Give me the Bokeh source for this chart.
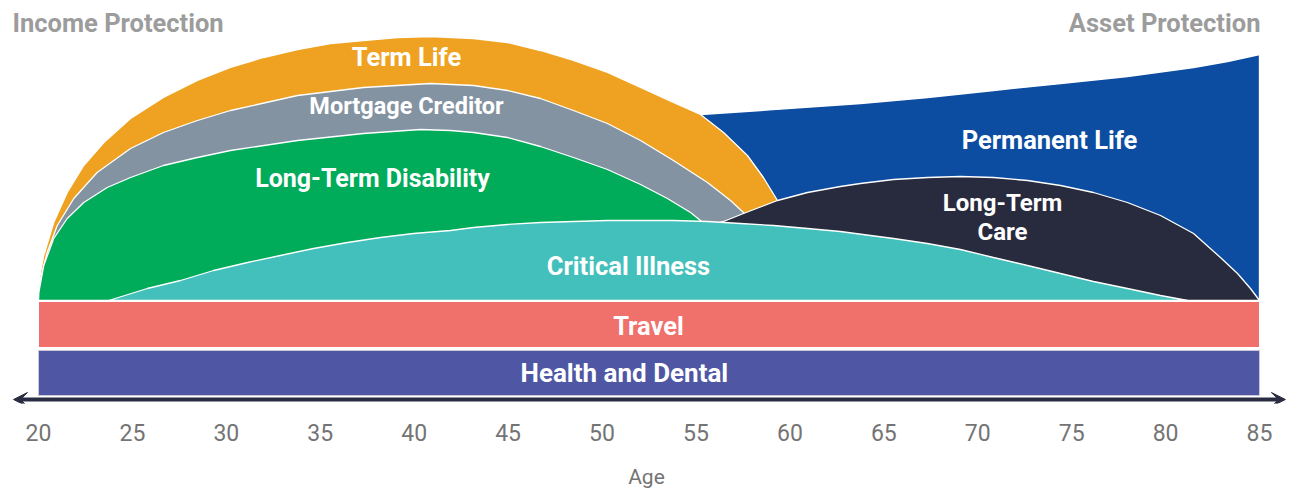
from bokeh.plotting import figure
from bokeh.models import Range1d, FixedTicker, Arrow, VeeHead
from bokeh.embed import file_html
from bokeh.resources import INLINE
from bokeh.core.properties import value

# ---------------- data (age, height of upper edge above the baseline) ----------------
perm_life_age = [55.24, 58.44, 63.76, 67.33, 70.84, 74.41, 77.97, 81.49, 83.30, 85.00]
perm_life_h = [186, 190, 197, 203, 210, 217, 224, 233, 239, 246]

term_life_age = [20.00, 20.02, 20.08, 20.28, 20.81, 21.53, 22.41, 23.48, 24.90, 26.65,
                 28.46, 30.22, 31.98, 33.79, 35.54, 37.30, 39.11, 40.87, 43.16, 44.97,
                 46.72, 48.48, 50.29, 52.05, 53.80, 55.24, 56.47, 57.74, 58.59, 59.34,
                 60.03]
term_life_h = [0, 12, 25, 45, 78, 108, 135, 158, 182, 203,
               220, 233, 243, 251, 257, 260, 263, 264, 262, 258,
               250, 240, 228, 213, 198, 186, 168, 145, 123, 100,
               74]

mortgage_age = [20.00, 20.11, 20.46, 21.00, 21.88, 23.12, 24.90, 26.65, 28.46, 30.22,
                33.79, 37.30, 40.87, 43.16, 44.97, 46.72, 48.48, 50.29, 52.05, 53.80,
                55.61, 56.84, 57.53, 58.44]
mortgage_h = [0, 22, 48, 75, 102, 128, 152, 168, 180, 190,
              205, 213, 217, 215, 210, 202, 190, 177, 160, 140,
              118, 100, 88, 65]

disability_age = [20.00, 20.02, 20.28, 20.81, 21.53, 22.41, 23.66, 24.90, 26.65, 28.46,
                  30.22, 33.79, 37.30, 40.34, 41.93, 43.16, 44.97, 46.72, 48.48, 50.29,
                  52.05, 53.48, 54.71, 55.24, 55.88]
disability_h = [0, 8, 35, 62, 82, 98, 113, 123, 135, 143,
                150, 160, 167, 171, 170, 168, 163, 154, 143, 131,
                116, 102, 88, 80, 65]

ltc_age = [56.09, 56.47, 57.53, 59.34, 60.94, 62.69, 63.76, 65.52, 67.33, 69.08,
           70.84, 72.65, 74.41, 76.16, 77.97, 79.73, 81.49, 82.92, 83.83, 84.52,
           85.00]
ltc_h = [77, 79, 87, 100, 108, 114, 117, 121, 123, 124,
         123, 120, 115, 108, 98, 85, 67, 43, 27, 12,
         0]

critical_age = [23.74, 25.79, 27.56, 29.32, 31.13, 32.88, 34.64, 36.45, 38.21, 39.96,
                41.93, 43.16, 44.97, 46.72, 48.48, 50.29, 52.05, 53.80, 55.61, 57.37,
                59.13, 60.94, 62.69, 64.29, 65.52, 67.32, 69.08, 70.84, 72.65, 74.41,
                76.16, 77.97, 79.73, 81.17]
critical_h = [0, 12, 20, 30, 38, 45, 52, 58, 63, 67,
              70, 73, 76, 78, 79, 80, 80, 80, 79, 77,
              75, 72, 69, 65, 62, 57, 51, 43, 35, 27,
              19, 12, 5, 0]

band_names = ["Travel", "Health and Dental"]
band_start = [20, 20]
band_end = [85, 85]

tick_ages = [20, 25, 30, 35, 40, 45, 50, 55, 60, 65, 70, 75, 80, 85]

# ---------------- colours ----------------
C_PERM = "#0D4DA1"
C_TERM = "#EFA221"
C_MORT = "#8493A2"
C_LTD = "#00AB5A"
C_LTC = "#282B3D"
C_CRIT = "#43C0BC"
C_TRAVEL = "#F0706B"
C_HEALTH = "#4F57A5"
C_DARK = "#2A2D42"
C_GREY_TXT = "#9C9C9C"
C_AXIS_TXT = "#747474"

FONT = value("Roboto")

p = figure(width=1292, height=491, output_backend="svg", toolbar_location=None,
           x_range=Range1d(17.977, 86.757), y_range=Range1d(-103, 300),
           y_axis_location=None, min_border_left=0, min_border_right=0,
           min_border_top=0, min_border_bottom=88, background_fill_color="white",
           border_fill_color="white")
p.grid.visible = False
p.outline_line_color = None


def closed(ages, hs):
    xs = list(ages)
    ys = list(hs)
    if ys[-1] != 0:
        xs.append(ages[-1]); ys.append(0)
    if ys[0] != 0:
        xs.append(ages[0]); ys.append(0)
    return xs, ys


for ages, hs, col in [(perm_life_age, perm_life_h, C_PERM),
                      (term_life_age, term_life_h, C_TERM),
                      (mortgage_age, mortgage_h, C_MORT),
                      (disability_age, disability_h, C_LTD),
                      (ltc_age, ltc_h, C_LTC),
                      (critical_age, critical_h, C_CRIT)]:
    xs, ys = closed(ages, hs)
    p.patch(xs, ys, fill_color=col, line_color="white", line_width=1.3)

# bands
p.quad(left=[band_start[0]], right=[band_end[0]], top=[-1], bottom=[-47],
       fill_color=C_TRAVEL, line_color="white", line_width=1)
p.quad(left=[band_start[1]], right=[band_end[1]], top=[-50], bottom=[-95],
       fill_color=C_HEALTH, line_color="#C9CAD6", line_width=1)


def lab(x, y, t, size="25px"):
    p.text(x=[x], y=[y], text=[t], text_font=FONT, text_font_style="bold",
           text_font_size=size, text_color="white", text_align="center",
           text_baseline="middle")


lab(39.59, 244, "Term Life", "25.5px")
lab(39.59, 195, "Mortgage Creditor", "23.5px")
lab(37.78, 122, "Long-Term Disability", "25px")
lab(73.82, 161, "Permanent Life", "25.5px")
lab(71.32, 98, "Long-Term", "24px")
lab(71.32, 69, "Care", "24px")
lab(51.41, 35, "Critical Illness", "25.5px")
lab(52.47, -25, band_names[0], "25.5px")
lab(51.19, -72, band_names[1], "26px")

# corner titles
p.text(x=[18.616], y=[277.5], text=["Income Protection"], text_font=FONT,
       text_font_style="bold", text_font_size="25.5px", text_color=C_GREY_TXT,
       text_align="left", text_baseline="middle")
p.text(x=[85.05], y=[277.5], text=["Asset Protection"], text_font=FONT,
       text_font_style="bold", text_font_size="25.5px", text_color=C_GREY_TXT,
       text_align="right", text_baseline="middle")

# double-headed axis arrow
arrow = Arrow(x_start=18.67, y_start=-99, x_end=86.38, y_end=-99,
              start=VeeHead(size=14, fill_color=C_DARK, line_color=C_DARK),
              end=VeeHead(size=14, fill_color=C_DARK, line_color=C_DARK),
              line_color=C_DARK, line_width=4)
p.add_layout(arrow)

ax = p.xaxis[0]
ax.ticker = FixedTicker(ticks=tick_ages)
ax.axis_line_color = None
ax.major_tick_line_color = None
ax.minor_tick_line_color = None
ax.major_tick_out = 0
ax.major_tick_in = 0
ax.major_label_standoff = 20
ax.major_label_text_font = "Roboto"
ax.major_label_text_font_size = "23px"
ax.major_label_text_color = C_AXIS_TXT
ax.axis_label = "Age"
ax.axis_label_text_font = "Roboto"
ax.axis_label_text_font_style = "normal"
ax.axis_label_text_font_size = "21px"
ax.axis_label_text_color = C_AXIS_TXT
ax.axis_label_standoff = 21

open("out.html", "w").write(file_html(p, INLINE))
